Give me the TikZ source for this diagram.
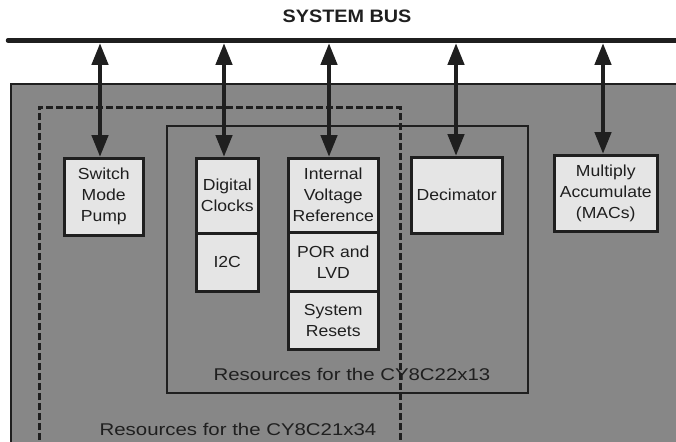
\documentclass[tikz,border=0pt]{standalone}
\usepackage{fontspec}
\setmainfont{Liberation Sans}[FakeStretch=1.1]
\newfontfamily\widesans{Liberation Sans}[FakeStretch=1.2]
\usetikzlibrary{arrows.meta}
\definecolor{bggray}{gray}{0.53}
\definecolor{boxfill}{gray}{0.9}
\definecolor{ink}{gray}{0.12}
\begin{document}
\begin{tikzpicture}[x=1pt,y=-1pt,
  blk/.style={draw=ink, line width=2.5pt, fill=boxfill, inner sep=0pt, align=center,
    font=\fontsize{16}{21}\selectfont, text=ink, anchor=north west},
  busarrow/.style={draw=ink, line width=4.5pt,
    {Triangle[length=22pt,width=16pt]}-{Triangle[length=22pt,width=16pt]}},
  lbl/.style={font=\widesans\fontsize{17}{20}\selectfont, text=ink, inner sep=0pt},
  frame/.style={draw=ink, line width=2.8pt}]
\useasboundingbox (0,0) rectangle (676,441);
\clip (0,0) rectangle (676,441);
\fill[white] (0,0) rectangle (676,441);
% title and bus
\node[font=\bfseries\fontsize{18}{20}\selectfont, text=ink] (title) at (347,16) {SYSTEM BUS};
\coordinate (bl) at (8,40.5);
\coordinate (br) at (680,40.5);
\draw[ink, line width=4.5pt, line cap=round] (bl) -- (br);
% resource area
\fill[bggray] (11,84) rectangle (700,460);
\draw[frame] (11,470) -- (11,84) -- (700,84);
\draw[ink, line width=3pt, dash pattern=on 7pt off 3pt] (39,470) -- (39,107) -- (400,107) -- (400,470);
\draw[frame] (167,126) rectangle (528,393);
% blocks
\node[blk, minimum width=79pt, minimum height=77pt] (smp) at (63,157) {Switch\\Mode\\Pump};
\node[blk, minimum width=62pt, minimum height=75pt] (dc) at (195,157) {Digital\\Clocks};
\node[blk, minimum width=62pt, minimum height=58pt] (i2c) at (195,232) {I2C};
\node[blk, minimum width=90pt, minimum height=74pt] (ivr) at (287,157) {Internal\\Voltage\\Reference};
\node[blk, minimum width=90pt, minimum height=59pt] (por) at (287,231) {POR and\\LVD};
\node[blk, minimum width=90pt, minimum height=58pt] (sr) at (287,290) {System\\Resets};
\node[blk, minimum width=91pt, minimum height=76pt] (dec) at (410,156) {Decimator};
\node[blk, minimum width=103pt, minimum height=76pt] (mac) at (553,154) {Multiply\\Accumulate\\(MACs)};
% labels
\node[lbl] (r22) at (352,374) {Resources for the CY8C22x13};
\node[lbl] (r21) at (238,429) {Resources for the CY8C21x34};
% bus arrows
\coordinate (a1) at (100,43);
\coordinate (a2) at (224,43);
\coordinate (a3) at (329,43);
\coordinate (a4) at (456,43);
\coordinate (a5) at (603,43);
\draw[busarrow] (a1) -- (a1 |- smp.north);
\draw[busarrow] (a2) -- (a2 |- dc.north);
\draw[busarrow] (a3) -- (a3 |- ivr.north);
\draw[busarrow] (a4) -- (a4 |- dec.north);
\draw[busarrow] (a5) -- (a5 |- mac.north);
\end{tikzpicture}
\end{document}
